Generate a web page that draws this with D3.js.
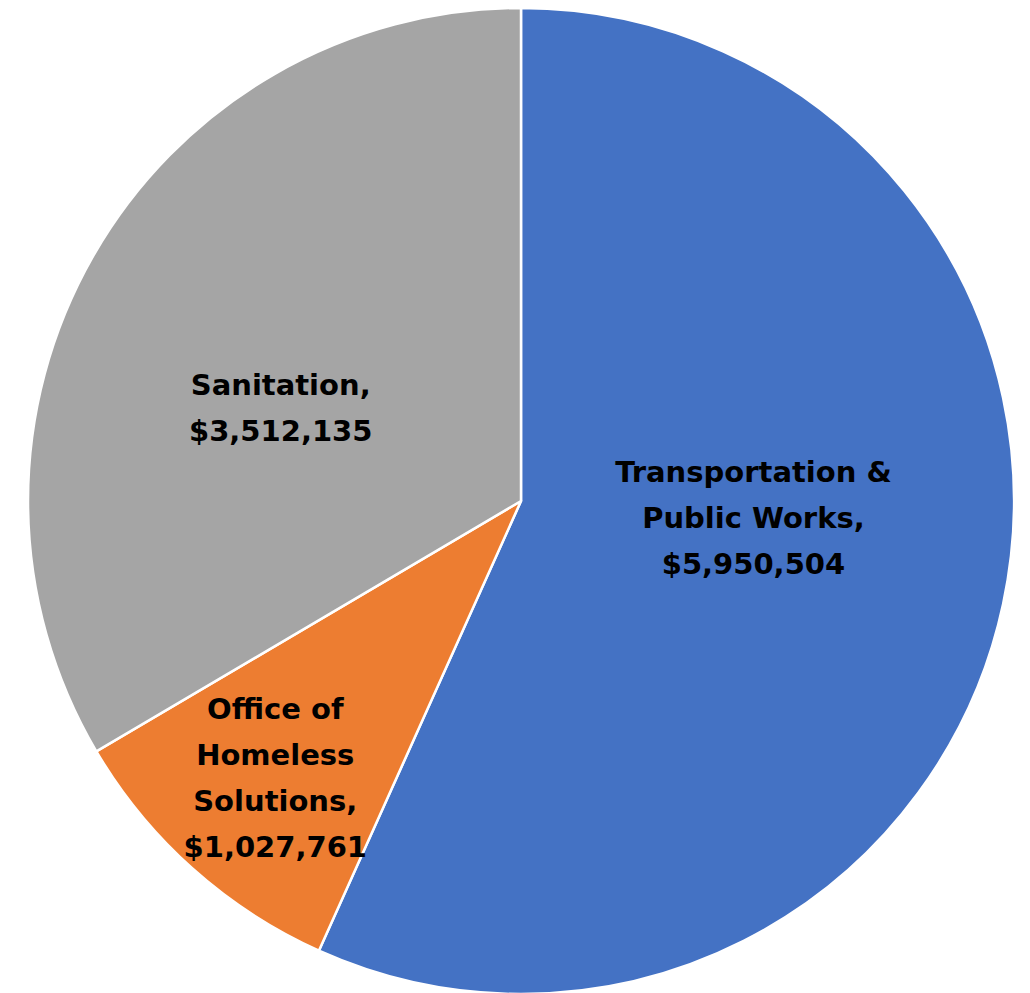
<!DOCTYPE html>
<html>
<head>
<meta charset="utf-8">
<script src="https://cdn.jsdelivr.net/npm/d3@7"></script>
<style>
  html, body { margin: 0; padding: 0; background: #fff; }
  svg text { font-family: "DejaVu Sans", sans-serif; font-weight: bold; fill: #000; }
</style>
</head>
<body>
<svg id="chart" width="1030" height="993"></svg>
<script>
// data
const departments = ["Transportation & Public Works", "Office of Homeless Solutions", "Sanitation"];
const amounts = [5950504, 1027761, 3512135];
const colors = ["#4472C4", "#ED7D31", "#A5A5A5"];
// label lines as shown on the slices
const labelLines = [
  ["Transportation &", "Public Works,", "$5,950,504"],
  ["Office of", "Homeless", "Solutions,", "$1,027,761"],
  ["Sanitation,", "$3,512,135"]
];

const width = 1030;
const height = 993;
const cx = 521;
const cy = 501;
const radius = 493;

// where each label block sits: distance from centre and angle (radians, clockwise from 12 o'clock)
const labelPlace = [
  { r: 233, a: 1.64 },
  { r: 370, a: 3.868 },
  { r: 258, a: 5.085 }
];

const svg = d3.select("#chart");
const g = svg.append("g").attr("transform", `translate(${cx},${cy})`);

const pie = d3.pie().sort(null).value((d) => d)(amounts);
const arc = d3.arc().innerRadius(0).outerRadius(radius);

g.selectAll("path")
  .data(pie)
  .enter()
  .append("path")
  .attr("d", arc)
  .attr("fill", (d, i) => colors[i])
  .attr("stroke", "#fff")
  .attr("stroke-width", 2.5)
  .attr("stroke-linejoin", "round");

const lineH = 46;
const fontSize = 29;

labelLines.forEach((lines, i) => {
  const p = labelPlace[i];
  const x = p.r * Math.sin(p.a);
  const y = -p.r * Math.cos(p.a);
  const t = g.append("text")
    .attr("text-anchor", "middle")
    .attr("font-size", fontSize)
    .attr("aria-label", departments[i]);
  lines.forEach((ln, j) => {
    t.append("tspan")
      .attr("x", x)
      .attr("y", y + (j - (lines.length - 1) / 2) * lineH + fontSize * 0.36)
      .text(ln);
  });
});
</script>
</body>
</html>
